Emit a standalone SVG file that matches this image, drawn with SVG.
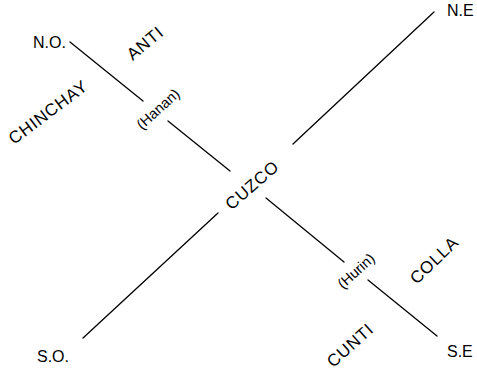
<svg xmlns="http://www.w3.org/2000/svg" width="477" height="374" viewBox="0 0 477 374">
  <style>
    .lbl { font-family: "Liberation Sans", Arial, sans-serif; font-size: 16px; fill: #000; }
    .rot { font-family: "Liberation Sans", Arial, sans-serif; font-size: 17px; letter-spacing: 0.8px; fill: #000; }
    .sub { font-family: "Liberation Sans", Arial, sans-serif; font-size: 14.5px; fill: #000; }
    .axis { stroke: #000; stroke-width: 1.3; fill: none; stroke-linecap: round; }
  </style>
  <rect width="477" height="374" fill="#fff"/>

  <!-- axes through Cuzco -->
  <g id="connectors">
    <line class="axis" x1="70" y1="42" x2="143" y2="101"/>
    <line class="axis" x1="168" y1="121" x2="230" y2="171"/>
    <line class="axis" x1="266" y1="198" x2="344" y2="262"/>
    <line class="axis" x1="368" y1="280" x2="437" y2="336"/>
    <line class="axis" x1="293" y1="144" x2="434" y2="12"/>
    <line class="axis" x1="83" y1="338" x2="218" y2="213"/>
  </g>

  <!-- compass points -->
  <g id="no"><text class="lbl" x="33" y="48">N.O.</text></g>
  <g id="ne"><text class="lbl" x="447" y="16">N.E</text></g>
  <g id="so"><text class="lbl" x="37" y="362">S.O.</text></g>
  <g id="se"><text class="lbl" x="447" y="357">S.E</text></g>

  <!-- centre and halves -->
  <g id="cuzco"><text class="rot" text-anchor="middle" transform="translate(252,185) rotate(-41)" y="6">CUZCO</text></g>
  <g id="hanan"><text class="sub" text-anchor="middle" transform="translate(158,109) rotate(-42)" y="5">(Hanan)</text></g>
  <g id="hurin"><text class="sub" text-anchor="middle" transform="translate(356,271) rotate(-42)" y="5">(Hurin)</text></g>

  <!-- the four suyus -->
  <g id="anti"><text class="rot" text-anchor="middle" transform="translate(145,43) rotate(-40)" y="6">ANTI</text></g>
  <g id="chinchay"><text class="rot" text-anchor="middle" transform="translate(48,112) rotate(-37)" y="6">CHINCHAY</text></g>
  <g id="colla"><text class="rot" text-anchor="middle" transform="translate(434,260) rotate(-44)" y="6">COLLA</text></g>
  <g id="cunti"><text class="rot" text-anchor="middle" transform="translate(350,345) rotate(-42)" y="6">CUNTI</text></g>
</svg>
